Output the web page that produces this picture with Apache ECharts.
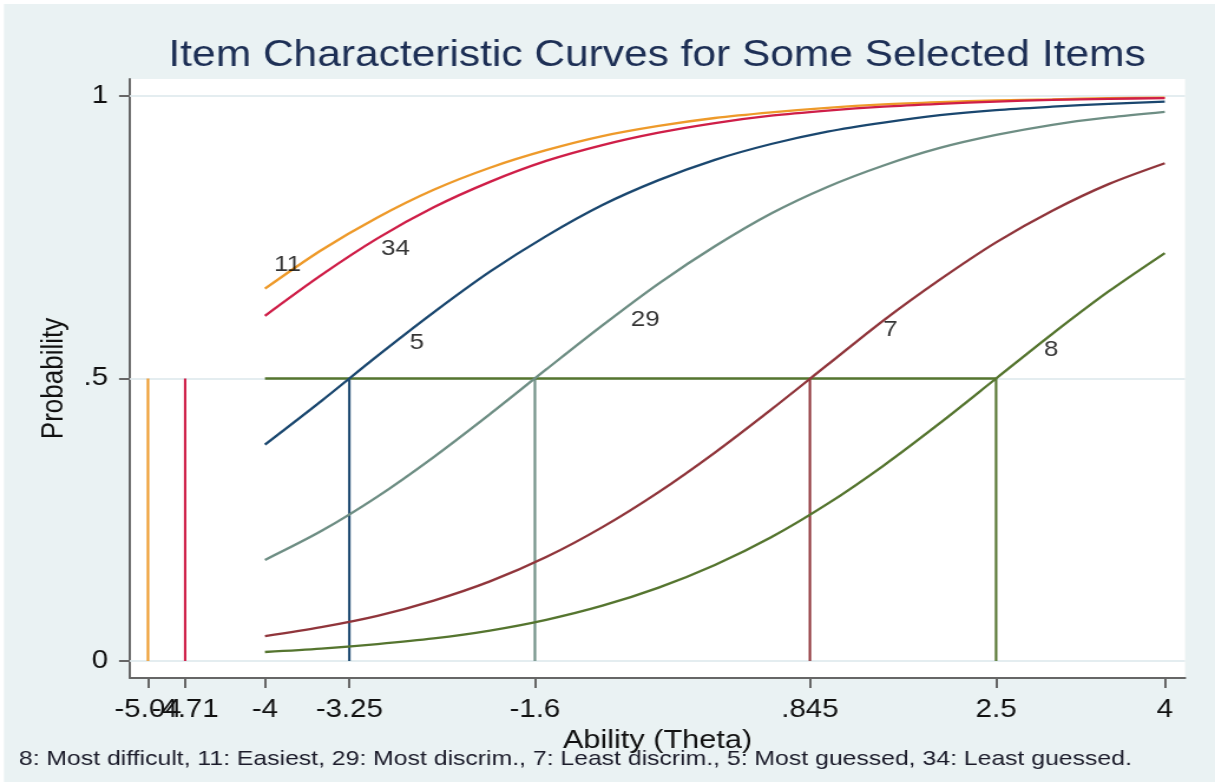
<!DOCTYPE html>
<html><head><meta charset="utf-8">
<script src="https://cdn.jsdelivr.net/npm/echarts@6/dist/echarts.min.js"></script>
<style>
html,body{margin:0;padding:0;background:#fff;overflow:hidden}
#wrap{width:1215px;height:782px;overflow:hidden;position:relative}
#c{width:1030px;height:782px;transform:scaleX(1.17961);transform-origin:0 0;position:absolute;left:0;top:0}
</style>
</head><body><div id="wrap"><div id="c"></div></div>
<script>
const theta = [-4,-3.5,-3,-2.5,-2,-1.5,-1,-0.5,0,0.5,1,1.5,2,2.5,3,3.5,4];
const item11 = [0.659,0.727,0.785,0.834,0.873,0.904,0.929,0.947,0.961,0.971,0.979,0.985,0.989,0.992,0.994,0.996,0.997];
const item34 = [0.611,0.683,0.748,0.803,0.848,0.885,0.913,0.935,0.952,0.965,0.974,0.981,0.986,0.990,0.993,0.995,0.996];
const item5  = [0.383,0.460,0.540,0.617,0.689,0.752,0.807,0.851,0.887,0.915,0.937,0.953,0.966,0.975,0.981,0.986,0.990];
const item29 = [0.179,0.230,0.291,0.361,0.437,0.516,0.594,0.668,0.734,0.792,0.839,0.877,0.908,0.931,0.949,0.962,0.972];
const item7  = [0.044,0.060,0.080,0.107,0.141,0.184,0.237,0.299,0.369,0.445,0.524,0.603,0.675,0.741,0.797,0.844,0.881];
const item8  = [0.016,0.022,0.030,0.040,0.054,0.073,0.098,0.130,0.170,0.219,0.278,0.346,0.421,0.500,0.579,0.654,0.722];

// Item difficulties (where each curve crosses .5)
const itemNames = ['11','34','5','29','7','8'];
const itemDifficulty = [-5.04,-4.71,-3.25,-1.6,0.845,2.5];
const itemColors = ['#ee9a2a','#cf1e48','#1a476f','#6e8e84','#90353b','#55752f'];
const itemCurves = [item11,item34,item5,item29,item7,item8];

// Curve label anchor points (data space)
const labelTheta = [-3.80,-2.84,-2.65,-0.62,1.56,2.99];
const labelProb  = [0.701,0.729,0.563,0.604,0.586,0.550];

// Axis ticks (label list starts with -5.04 then -4 so that the two
// overlapping labels -5.04 / -4.71 are both kept, as in the original)
const xTickValues = [-5.04,-4,-4.71,-3.25,-1.6,0.845,2.5,4];
const xTickLabels = ['-5.04','-4','-4.71','-3.25','-1.6','.845','2.5','4'];
const yTickValues = [0,0.5,1];
const yTickLabels = ['0','.5','1'];
const halfLineFrom = -4, halfLineTo = 2.5, halfLevel = 0.5;

const FONT = 'Liberation Sans, Arial, sans-serif';
const chart = echarts.init(document.getElementById('c'), null, {renderer:'canvas', width:1030, height:782});

const series = [];
series.push({
  type:'line', data:[], silent:true, z:1,
  markLine:{silent:true, z:1, symbol:'none', label:{show:false},
    lineStyle:{color:'#e4edf0', width:2, type:'solid'},
    data: yTickValues.map(v=>({yAxis:v}))}
});
itemCurves.forEach((arr,i)=>{
  series.push({type:'line', name:'item'+itemNames[i], smooth:0.3, showSymbol:false, z:3,
    lineStyle:{color:itemColors[i], width:2.3}, itemStyle:{color:itemColors[i]},
    data: theta.map((t,k)=>[t,arr[k]])});
});
itemDifficulty.forEach((b,i)=>{
  series.push({type:'line', showSymbol:false, z:2, lineStyle:{color:itemColors[i], width:2.1},
    data:[[b,0],[b,halfLevel]]});
});
series.push({type:'line', showSymbol:false, z:2, lineStyle:{color:'#55752f', width:2.3},
  data:[[halfLineFrom,halfLevel],[halfLineTo,halfLevel]]});
series.push({type:'scatter', symbolSize:0, z:5,
  label:{show:true, position:'inside', formatter:p=>p.data[2], color:'#000', fontSize:22, fontFamily:FONT},
  data: labelTheta.map((t,i)=>[t,labelProb[i],itemNames[i]])});

chart.setOption({
  backgroundColor:'#eaf2f3',
  animation:false,
  graphic:[
    {type:'rect', shape:{x:0,y:0,width:1030,height:4}, style:{fill:'#fff'}},
    {type:'rect', shape:{x:0,y:0,width:3.4,height:782}, style:{fill:'#fff'}},
    {type:'text', style:{text:'Item Characteristic Curves for Some Selected Items', x:557, y:56,
      align:'center', verticalAlign:'middle', fontSize:36, fontFamily:FONT, fill:'#1d2f55'}},
    {type:'text', style:{text:'8: Most difficult, 11: Easiest, 29: Most discrim., 7: Least discrim., 5: Most guessed, 34: Least guessed.',
      x:16, y:759, align:'left', verticalAlign:'middle', fontSize:21, fontFamily:FONT, fill:'#1b1b2a'}}
  ],
  grid:{left:110.2, right:25.4, top:79, bottom:104, show:true, backgroundColor:'#fff', borderWidth:0},
  xAxis:{type:'value', min:-5.2, max:4.18,
    name:'Ability (Theta)', nameLocation:'middle', nameGap:47,
    nameTextStyle:{fontSize:26, fontFamily:FONT, color:'#111'},
    axisLine:{show:true, onZero:false, lineStyle:{color:'#666', width:2}},
    axisTick:{show:true, length:10, customValues:xTickValues, lineStyle:{color:'#666', width:2}},
    axisLabel:{customValues:xTickValues, margin:20, fontSize:25, fontFamily:FONT, color:'#111',
      showMinLabel:true, showMaxLabel:true, hideOverlap:false,
      formatter:v=>{const k=xTickValues.indexOf(v); return k>=0?xTickLabels[k]:'';}},
    splitLine:{show:false}},
  yAxis:{type:'value', min:-0.03, max:1.03,
    name:'Probability', nameLocation:'middle', nameGap:51,
    nameTextStyle:{fontSize:26, fontFamily:FONT, color:'#111'},
    axisLine:{show:true, onZero:false, lineStyle:{color:'#666', width:2}},
    axisTick:{show:true, length:9.3, customValues:yTickValues, lineStyle:{color:'#666', width:2}},
    axisLabel:{customValues:yTickValues, margin:18.6, fontSize:25, fontFamily:FONT, color:'#111',
      formatter:v=>{const k=yTickValues.indexOf(v); return k>=0?yTickLabels[k]:'';}},
    splitLine:{show:false}},
  series: series
});
</script></body></html>
